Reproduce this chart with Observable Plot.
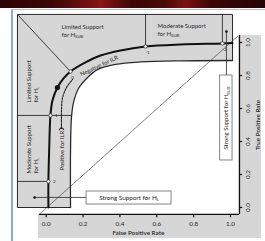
<!DOCTYPE html>
<html><head><meta charset="utf-8">
<script src="https://cdn.jsdelivr.net/npm/d3@7"></script>
<script src="https://cdn.jsdelivr.net/npm/@observablehq/plot@0.6"></script>
<style>
html,body{margin:0;padding:0;background:#fff;width:265px;height:241px;overflow:hidden;}
#wrap{position:relative;width:265px;height:241px;}
#chart{position:absolute;left:0;top:0;}
#banner{position:absolute;left:0;top:0;width:265px;height:8px;
 background:linear-gradient(90deg,#2c0505 0%,#3d0808 20%,#6e1111 32%,#8a1616 38%,#3a0707 50%,#4a0909 62%,#7c1313 70%,#3a0606 80%,#250404 100%);}
#bl{position:absolute;left:11px;top:10px;width:2px;height:231px;background:#86abd9;}
#bt{position:absolute;left:11px;top:9px;width:254px;height:1px;background:#a9c3e4;}
</style></head>
<body><div id="wrap"><div id="chart"></div><div id="banner"></div><div id="bl"></div><div id="bt"></div></div>
<script>
// ---- data (FPR, TPR units) ----
const xTicks = [0, 0.2, 0.4, 0.6, 0.8, 1.0];
const yTicks = [0, 0.2, 0.4, 0.6, 0.8, 1.0];
const outerCurve = [[0.012,0.0],[0.012,0.158],[0.016,0.345],[0.023,0.558],[0.034,0.648],[0.061,0.727],[0.094,0.782],[0.132,0.824],[0.213,0.879],[0.295,0.921],[0.403,0.952],[0.539,0.976],[0.729,0.988],[0.956,0.994],[1.011,0.997]];
const innerCurve = [[0.132,0.0],[0.132,0.345],[0.137,0.545],[0.148,0.636],[0.175,0.721],[0.219,0.782],[0.278,0.836],[0.376,0.867],[0.512,0.882],[0.729,0.889],[1.011,0.891]];
const llrPoints = [
  {fpr:0.012, tpr:0.158, llr:"2", side:"right"},
  {fpr:0.023, tpr:0.558, llr:"1", side:"right"},
  {fpr:0.132, tpr:0.824, llr:"0", side:"below"},
  {fpr:0.539, tpr:0.976, llr:"-1", side:"below"},
  {fpr:0.956, tpr:0.994, llr:"-2", side:"below"}
];
const markedPoint = [{fpr:0.061, tpr:0.727}];
const frameOutline = [[0.132,0],[-0.156,0],[-0.156,1.17],[1.011,1.17],[1.011,0.891]];
const dividers = [
  {x1:-0.156, y1:1.17, x2:0.132, y2:0.824},
  {x1:0.539, y1:0.976, x2:0.539, y2:1.17},
  {x1:0.956, y1:0.994, x2:0.956, y2:1.17},
  {x1:-0.156, y1:0.558, x2:0.138, y2:0.558},
  {x1:-0.156, y1:0.158, x2:0.012, y2:0.158}
];
const chanceLine = [[-0.036,-0.04],[1.043,1.042]];
const ilrArrow = [[0.083,0.479],[0.083,0.588],[0.088,0.661],[0.110,0.727],[0.143,0.776]];
const calloutSub = {dot:[0.978,1.067], boxTop:0.80, box:{x1:0.944, x2:1.011, y1:0.285, y2:0.80}, label:"Strong Support for H_SUB"};
const calloutL = {dot:[-0.063,0.061], boxLeft:0.219, box:{x1:0.219, x2:0.680, y1:0.018, y2:0.097}, label:"Strong Support for H_L"};

const GRAY = "#d6d6d6";
const INK = "#2a2a2a";
const TXT = "#262626";
const FONT = "Lato, 'Open Sans', sans-serif";

const plot = Plot.plot({
  width: 265, height: 241, margin: 0,
  x: {domain: [0, 1], range: [45.7, 230], axis: null},
  y: {domain: [0, 1], range: [207, 42], axis: null},
  style: {fontFamily: FONT, background: "transparent", overflow: "visible"},
  marks: [
    // axis panels
    Plot.rect([0], {x1: -0.042, x2: 1.168, y1: -0.188, y2: -0.042, fill: GRAY}),
    Plot.rect([0], {x1: 1.044, x2: 1.168, y1: -0.188, y2: 1.042, fill: GRAY}),
    // support regions (gray L-shape) and white interior
    Plot.rect([0], {x1: -0.156, x2: 1.011, y1: 0, y2: 1.17, fill: GRAY}),
    Plot.areaY(innerCurve, {x: d => d[0], y1: 0, y2: d => d[1], fill: "white", curve: "catmull-rom"}),
    // chance diagonal
    Plot.line(chanceLine, {x: d => d[0], y: d => d[1], stroke: "#444", strokeWidth: 0.7, strokeDasharray: "2.5,0.8"}),
    // frame & boundaries
    Plot.line(frameOutline, {x: d => d[0], y: d => d[1], stroke: INK, strokeWidth: 1}),
    Plot.link(dividers, {x1: "x1", y1: "y1", x2: "x2", y2: "y2", stroke: INK, strokeWidth: 0.9}),
    Plot.line(innerCurve, {x: d => d[0], y: d => d[1], stroke: INK, strokeWidth: 1.3, curve: "catmull-rom"}),
    Plot.line(outerCurve, {x: d => d[0], y: d => d[1], stroke: "#111", strokeWidth: 2, curve: "catmull-rom"}),
    // dashed ILR arrow
    Plot.line(ilrArrow, {x: d => d[0], y: d => d[1], stroke: "#222", strokeWidth: 1.1, strokeDasharray: "2,1.2", curve: "catmull-rom", markerStart: "arrow"}),
    // LLR points
    Plot.dot(llrPoints, {x: "fpr", y: "tpr", r: 1.7, fill: "white", stroke: "#222", strokeWidth: 0.7}),
    Plot.text(llrPoints.filter(d => d.side === "right"), {x: "fpr", y: "tpr", text: "llr", dx: 4.5, fontSize: 4.5, fill: TXT, textAnchor: "start"}),
    Plot.text(llrPoints.filter(d => d.side === "below"), {x: "fpr", y: "tpr", text: "llr", dx: 2, dy: 6, fontSize: 4.5, fill: TXT}),
    Plot.dot(markedPoint, {x: "fpr", y: "tpr", r: 2.6, fill: "#111"}),
    // callouts
    Plot.link([calloutSub], {x1: d => d.dot[0], y1: d => d.dot[1], x2: d => d.dot[0], y2: d => d.boxTop, stroke: INK, strokeWidth: 0.8}),
    Plot.dot([calloutSub], {x: d => d.dot[0], y: d => d.dot[1], r: 1.3, fill: "#111"}),
    Plot.rect([calloutSub], {x1: d => d.box.x1, x2: d => d.box.x2, y1: d => d.box.y1, y2: d => d.box.y2, fill: "white", stroke: "#666", strokeWidth: 0.8}),
    Plot.text([calloutSub], {x: d => (d.box.x1 + d.box.x2) / 2, y: d => (d.box.y1 + d.box.y2) / 2, text: "label", rotate: -90, fontSize: 6, fill: TXT}),
    Plot.link([calloutL], {x1: d => d.dot[0], y1: d => d.dot[1], x2: d => d.boxLeft, y2: d => d.dot[1], stroke: INK, strokeWidth: 0.8}),
    Plot.dot([calloutL], {x: d => d.dot[0], y: d => d.dot[1], r: 1.3, fill: "#111"}),
    Plot.rect([calloutL], {x1: d => d.box.x1, x2: d => d.box.x2, y1: d => d.box.y1, y2: d => d.box.y2, fill: "white", stroke: "#666", strokeWidth: 0.8}),
    Plot.text([calloutL], {x: d => (d.box.x1 + d.box.x2) / 2, y: d => (d.box.y1 + d.box.y2) / 2, text: "label", fontSize: 6.3, fill: TXT}),
    // region labels
    Plot.text(["Limited Support"], {x: 0.083, y: 1.094, text: d => d, textAnchor: "start", fontSize: 6, fill: TXT}),
    Plot.text(["for H_SUB"], {x: 0.083, y: 1.046, text: d => d, textAnchor: "start", fontSize: 6, fill: TXT}),
    Plot.text(["Moderate Support"], {x: 0.604, y: 1.1, text: d => d, textAnchor: "start", fontSize: 6, fill: TXT}),
    Plot.text(["for H_SUB"], {x: 0.604, y: 1.05, text: d => d, textAnchor: "start", fontSize: 6, fill: TXT}),
    Plot.text(["Limited Support"], {x: -0.094, y: 0.636, text: d => d, textAnchor: "start", rotate: -90, fontSize: 6, fill: TXT}),
    Plot.text(["for H_L"], {x: -0.054, y: 0.636, text: d => d, textAnchor: "start", rotate: -90, fontSize: 6, fill: TXT}),
    Plot.text(["Moderate Support"], {x: -0.094, y: 0.206, text: d => d, textAnchor: "start", rotate: -90, fontSize: 6, fill: TXT}),
    Plot.text(["for H_L"], {x: -0.054, y: 0.206, text: d => d, textAnchor: "start", rotate: -90, fontSize: 6, fill: TXT}),
    Plot.text(["Positive for ILR"], {x: 0.088, y: 0.224, text: d => d, textAnchor: "start", rotate: -90, fontSize: 6, fill: TXT}),
    Plot.text(["Negative for ILR"], {x: 0.287, y: 0.858, text: d => d, rotate: -25, fontSize: 5.8, fill: TXT}),
    // x axis
    Plot.ruleY([-0.042], {x1: -0.036, x2: 1.049, stroke: "#111", strokeWidth: 1.2}),
    Plot.ruleX(xTicks, {x: d => d, y1: -0.042, y2: -0.062, stroke: "#111", strokeWidth: 1.2}),
    Plot.text(xTicks, {x: d => d, y: -0.042, dy: 9.5, text: d => d.toFixed(1), fontSize: 6.3, fill: TXT}),
    Plot.text(["False Positive Rate"], {x: 0.5, y: -0.042, dy: 18.5, text: d => d, fontSize: 6.3, fontWeight: 600, fill: TXT}),
    // y axis (right)
    Plot.ruleX([1.049], {y1: -0.042, y2: 1.042, stroke: "#111", strokeWidth: 1.2}),
    Plot.ruleY(yTicks, {y: d => d, x1: 1.049, x2: 1.066, stroke: "#111", strokeWidth: 1.2}),
    Plot.text(yTicks, {x: 1.049, y: d => d, dx: 8, text: d => d.toFixed(1), rotate: -90, fontSize: 6.3, fill: TXT}),
    Plot.text(["True Positive Rate"], {x: 1.049, y: 0.5, dx: 18.5, text: d => d, rotate: -90, fontSize: 6.3, fontWeight: 600, fill: TXT})
  ]
});

// subscripts: "H_SUB" -> H with subscript SUB
function subify(el) {
  for (const node of [...el.childNodes]) {
    if (node.nodeType === 3 && node.nodeValue.includes("_")) {
      const [a, b] = node.nodeValue.split("_");
      const t1 = document.createTextNode(a);
      const ts = document.createElementNS("http://www.w3.org/2000/svg", "tspan");
      ts.setAttribute("font-size", "4.3px");
      ts.setAttribute("dy", "1.3");
      ts.textContent = b;
      el.replaceChild(t1, node);
      el.insertBefore(ts, t1.nextSibling);
    } else if (node.nodeType === 1) subify(node);
  }
}
plot.querySelectorAll("text").forEach(subify);
document.getElementById("chart").appendChild(plot);
</script>
</body></html>
